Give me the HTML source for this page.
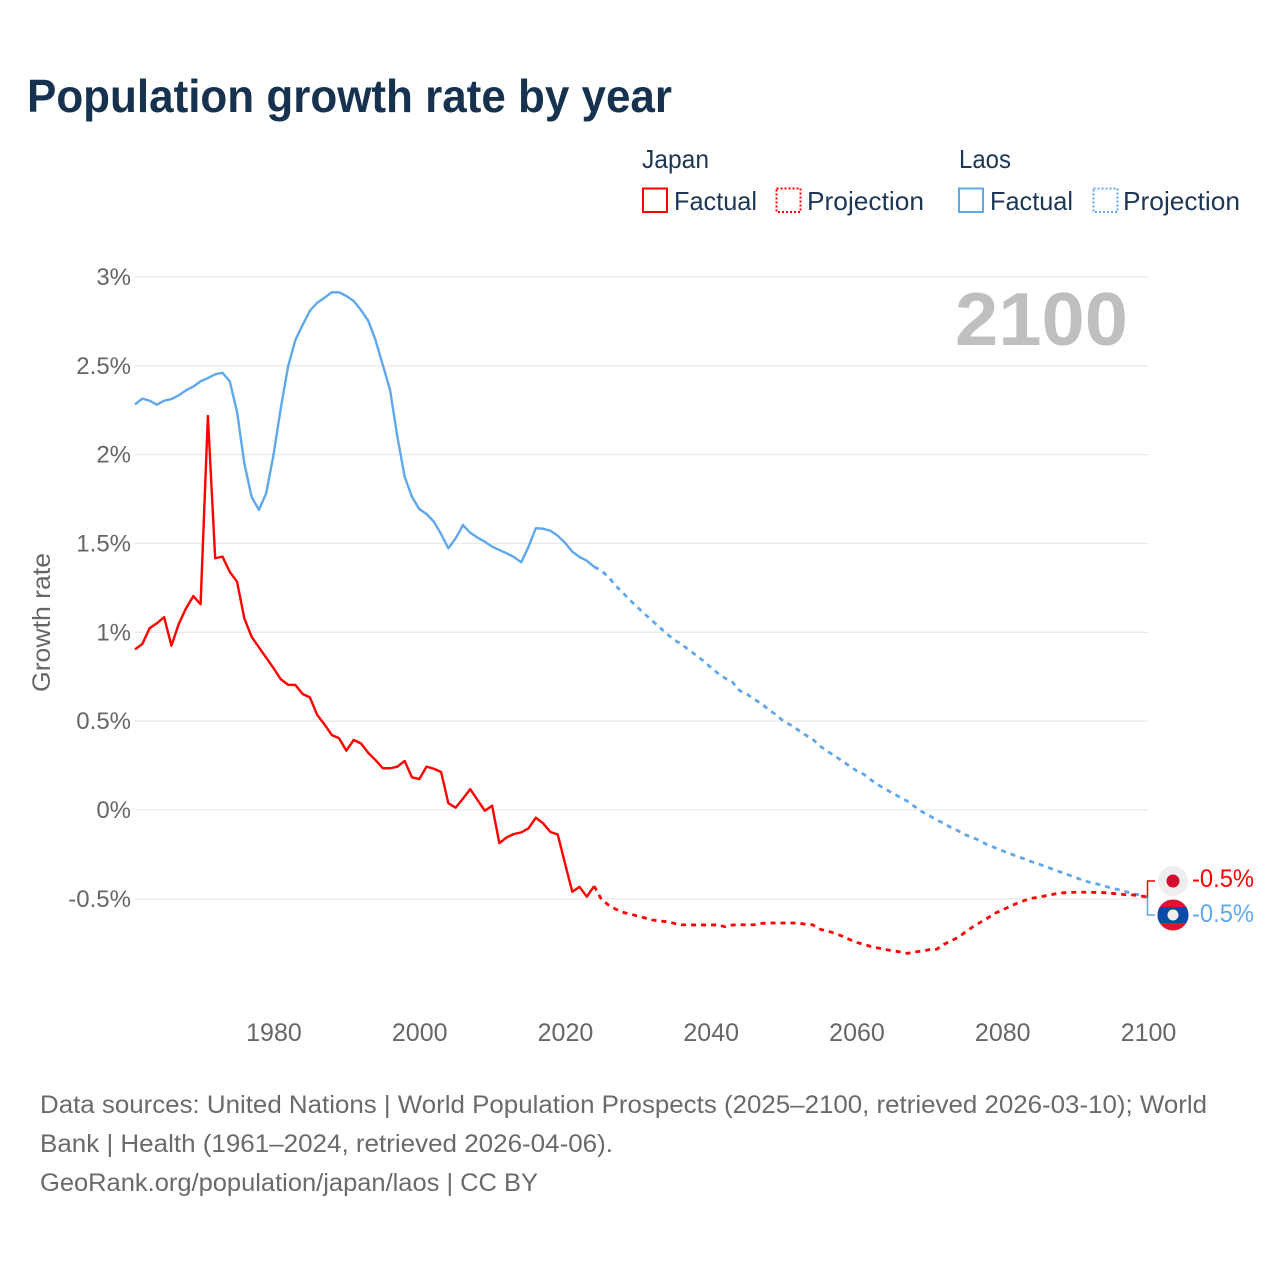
<!DOCTYPE html>
<html lang="en">
<head>
<meta charset="utf-8">
<title>Population growth rate by year</title>
<style>
html,body{margin:0;padding:0;background:#fff;}
svg{display:block;font-family:"Liberation Sans",sans-serif;}
</style>
</head>
<body>
<svg id="chart" xmlns="http://www.w3.org/2000/svg" width="1280" height="1280" viewBox="0 0 1280 1280">
  <rect x="0" y="0" width="1280" height="1280" fill="#ffffff"/>
  <text x="27" y="112" font-size="46" font-weight="700" fill="#17324f" textLength="645" lengthAdjust="spacingAndGlyphs">Population growth rate by year</text>

  <g font-size="26" fill="#1c3654">
    <text x="642" y="168" textLength="67" lengthAdjust="spacingAndGlyphs">Japan</text>
    <text x="959" y="168" textLength="52" lengthAdjust="spacingAndGlyphs">Laos</text>
    <rect x="643" y="188.5" width="24" height="23.5" fill="none" stroke="#ff0000" stroke-width="2"/>
    <text x="674" y="210" textLength="83" lengthAdjust="spacingAndGlyphs">Factual</text>
    <rect x="776.5" y="188.5" width="24" height="23.5" fill="none" stroke="#ff0000" stroke-width="2" stroke-dasharray="2 2"/>
    <text x="807" y="210" textLength="117" lengthAdjust="spacingAndGlyphs">Projection</text>
    <rect x="959" y="188.5" width="24" height="23.5" fill="none" stroke="#5fa8ec" stroke-width="2"/>
    <text x="990" y="210" textLength="83" lengthAdjust="spacingAndGlyphs">Factual</text>
    <rect x="1093.5" y="188.5" width="24" height="23.5" fill="none" stroke="#5fa8ec" stroke-width="2" stroke-dasharray="2 2"/>
    <text x="1123" y="210" textLength="117" lengthAdjust="spacingAndGlyphs">Projection</text>
  </g>

  <g id="grid"></g>
  <g id="yticks" font-size="24" fill="#666666" text-anchor="end"></g>
  <g id="xticks" font-size="25" fill="#666666" text-anchor="middle"></g>

  <text transform="translate(50 622.5) rotate(-90)" font-size="25" fill="#666666" text-anchor="middle" textLength="139" lengthAdjust="spacingAndGlyphs">Growth rate</text>
  <text x="955" y="345" font-size="75" font-weight="700" fill="#bfbfbf" textLength="173" lengthAdjust="spacingAndGlyphs">2100</text>

  <g id="series"></g>

  <g>
    <circle cx="1173" cy="881" r="15" fill="#eeeeee"/>
    <circle cx="1173" cy="881" r="6.5" fill="#d30a2f"/>
    <text x="1192" y="887" font-size="25" fill="#ff0000" textLength="62" lengthAdjust="spacingAndGlyphs">-0.5%</text>
  </g>
  <g>
    <clipPath id="laos-clip"><circle cx="1173" cy="915" r="15.5"/></clipPath>
    <g clip-path="url(#laos-clip)">
      <rect x="1157" y="899" width="32" height="32" fill="#dc1630"/>
      <rect x="1157" y="907" width="32" height="16" fill="#0b4aa8"/>
      <circle cx="1173" cy="915" r="5.5" fill="#eeeeee"/>
    </g>
    <text x="1192" y="922" font-size="25" fill="#5fa8ec" textLength="62" lengthAdjust="spacingAndGlyphs">-0.5%</text>
  </g>

  <g font-size="25" fill="#6a6a6a">
    <text x="40" y="1113" textLength="1167" lengthAdjust="spacingAndGlyphs">Data sources: United Nations | World Population Prospects (2025–2100, retrieved 2026-03-10); World</text>
    <text x="40" y="1152" textLength="573" lengthAdjust="spacingAndGlyphs">Bank | Health (1961–2024, retrieved 2026-04-06).</text>
    <text x="40" y="1191" textLength="498" lengthAdjust="spacingAndGlyphs">GeoRank.org/population/japan/laos | CC BY</text>
  </g>
</svg>
<script>
var factualStartYear = 1961;
var projectionStartYear = 2025;
var yTickValues = [-0.5, 0, 0.5, 1, 1.5, 2, 2.5, 3];
var yTickLabels = ["-0.5%", "0%", "0.5%", "1%", "1.5%", "2%", "2.5%", "3%"];
var xTickValues = [1980, 2000, 2020, 2040, 2060, 2080, 2100];
var xTickLabels = ["1980", "2000", "2020", "2040", "2060", "2080", "2100"];

var japanFactual = [0.904,0.934,1.023,1.051,1.085,0.925,1.047,1.135,1.204,1.158,
  2.218,1.417,1.426,1.341,1.285,1.079,0.975,0.916,0.857,0.799,
  0.736,0.705,0.704,0.653,0.634,0.535,0.482,0.422,0.404,0.334,
  0.394,0.375,0.322,0.281,0.235,0.235,0.244,0.276,0.184,0.174,
  0.244,0.232,0.214,0.038,0.013,0.064,0.117,0.056,-0.004,0.024,
  -0.187,-0.154,-0.135,-0.126,-0.103,-0.043,-0.075,-0.124,-0.137,-0.300,
  -0.460,-0.433,-0.488,-0.428];
var japanProjection = [-0.503,-0.536,-0.559,-0.576,-0.587,-0.597,-0.608,-0.619,-0.625,-0.629,
  -0.638,-0.646,-0.647,-0.647,-0.647,-0.647,-0.647,-0.657,-0.647,-0.646,
  -0.646,-0.646,-0.638,-0.636,-0.636,-0.636,-0.636,-0.636,-0.643,-0.646,
  -0.671,-0.681,-0.694,-0.709,-0.728,-0.745,-0.756,-0.769,-0.777,-0.786,
  -0.792,-0.799,-0.807,-0.799,-0.794,-0.786,-0.784,-0.756,-0.736,-0.716,
  -0.685,-0.657,-0.632,-0.608,-0.581,-0.563,-0.544,-0.525,-0.510,-0.497,
  -0.491,-0.482,-0.474,-0.467,-0.464,-0.463,-0.463,-0.463,-0.464,-0.465,
  -0.469,-0.473,-0.477,-0.478,-0.484,-0.491];
var laosFactual = [2.283,2.315,2.304,2.281,2.304,2.313,2.334,2.362,2.383,2.413,
  2.431,2.452,2.461,2.413,2.242,1.951,1.763,1.689,1.783,1.998,
  2.261,2.495,2.645,2.730,2.810,2.855,2.883,2.914,2.914,2.893,
  2.865,2.814,2.754,2.645,2.505,2.364,2.101,1.876,1.763,1.694,
  1.666,1.623,1.553,1.473,1.529,1.604,1.561,1.533,1.510,1.482,
  1.463,1.445,1.424,1.394,1.482,1.586,1.583,1.572,1.544,1.504,
  1.454,1.424,1.403,1.369];
var laosProjection = [1.347,1.310,1.261,1.220,1.178,1.139,1.101,1.064,1.028,0.991,
  0.957,0.933,0.901,0.871,0.839,0.803,0.769,0.741,0.719,0.671,
  0.651,0.623,0.597,0.563,0.535,0.499,0.478,0.450,0.422,0.398,
  0.360,0.330,0.306,0.276,0.249,0.221,0.201,0.169,0.141,0.117,
  0.094,0.071,0.049,0.019,-0.010,-0.032,-0.056,-0.075,-0.100,-0.118,
  -0.141,-0.156,-0.174,-0.197,-0.212,-0.229,-0.244,-0.261,-0.274,-0.291,
  -0.304,-0.319,-0.334,-0.349,-0.364,-0.379,-0.394,-0.407,-0.416,-0.428,
  -0.439,-0.449,-0.460,-0.471,-0.480,-0.491];

var SVG_NS = "http://www.w3.org/2000/svg";
function xScale(year) { return 135 + (year - 1961) * (1148 - 135) / (2100 - 1961); }
function yScale(pct) { return 810 - pct * 177.67; }
function svgEl(tag, parent) {
  var el = document.createElementNS(SVG_NS, tag);
  parent.appendChild(el);
  return el;
}
function linePoints(values, startYear, prefix) {
  var pts = prefix ? prefix.slice() : [];
  for (var i = 0; i < values.length; i++) {
    pts.push(xScale(startYear + i).toFixed(2) + "," + yScale(values[i]).toFixed(2));
  }
  return pts;
}

var gridG = document.getElementById("grid");
var yG = document.getElementById("yticks");
yTickValues.forEach(function (v, i) {
  var ln = svgEl("line", gridG);
  
  
  ln.setAttribute("x1", 135);
  ln.setAttribute("x2", 1148);
  ln.setAttribute("y1", yScale(v));
  ln.setAttribute("y2", yScale(v));
  ln.setAttribute("stroke", "#eaeaea");
  ln.setAttribute("stroke-width", "1.3");
  var t = svgEl("text", yG);
  
  
  t.setAttribute("x", 131);
  t.setAttribute("y", yScale(v) + 8);
  t.textContent = yTickLabels[i];
});

var xG = document.getElementById("xticks");
xTickValues.forEach(function (v, i) {
  var t = svgEl("text", xG);
  
  
  t.setAttribute("x", xScale(v) + 0.5);
  t.setAttribute("y", 1041);
  t.textContent = xTickLabels[i];
});

var seriesG = document.getElementById("series");
function drawLine(values, startYear, color, width, dash, name, prefix) {
  var p = svgEl("polyline", seriesG);
  
  
  p.setAttribute("points", linePoints(values, startYear, prefix).join(" "));
  p.setAttribute("fill", "none");
  p.setAttribute("stroke", color);
  p.setAttribute("stroke-width", width);
  p.setAttribute("stroke-linejoin", "round");
  if (dash) { p.setAttribute("stroke-dasharray", dash); }
}
var RED = "#ff0000";
var BLUE = "#5fa8ec";
function lastPoint(values, startYear) {
  var i = values.length - 1;
  return [xScale(startYear + i).toFixed(2) + "," + yScale(values[i]).toFixed(2)];
}
drawLine(laosFactual, factualStartYear, BLUE, 2.4, null, "laos-factual-line");
drawLine(laosProjection, projectionStartYear, BLUE, 2.8, "5 5", "laos-projection-line", lastPoint(laosFactual, factualStartYear));
drawLine(japanFactual, factualStartYear, RED, 2.4, null, "japan-factual-line");
drawLine(japanProjection, projectionStartYear, RED, 2.8, "5 5", "japan-projection-line", lastPoint(japanFactual, factualStartYear));

function drawConnector(values, color, labelY, name) {
  var endY = yScale(values[values.length - 1]).toFixed(2);
  var c = svgEl("polyline", seriesG);
  
  
  c.setAttribute("points", "1147.5," + endY + " 1147.5," + labelY + " 1155," + labelY);
  c.setAttribute("fill", "none");
  c.setAttribute("stroke", color);
  c.setAttribute("stroke-width", "1.5");
}
drawConnector(japanProjection, RED, 881, "japan-end-connector");
drawConnector(laosProjection, BLUE, 915, "laos-end-connector");
</script>
</body>
</html>
